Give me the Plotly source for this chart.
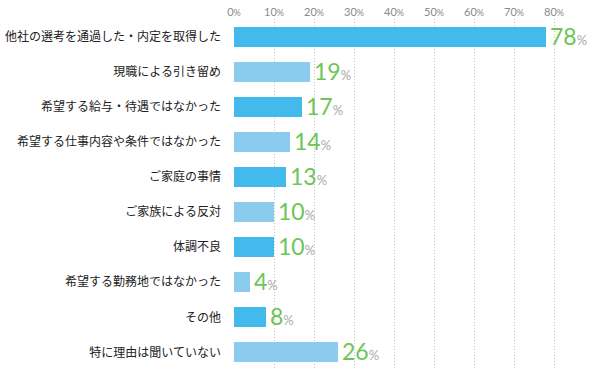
import plotly.graph_objects as go

categories = [
    "他社の選考を通過した・内定を取得した",
    "現職による引き留め",
    "希望する給与・待遇ではなかった",
    "希望する仕事内容や条件ではなかった",
    "ご家庭の事情",
    "ご家族による反対",
    "体調不良",
    "希望する勤務地ではなかった",
    "その他",
    "特に理由は聞いていない",
]
values = [78, 19, 17, 14, 13, 10, 10, 4, 8, 26]
tick_values = [0, 10, 20, 30, 40, 50, 60, 70, 80]

dark = "#42BAEC"
light = "#8BCBEE"
colors = [dark if i % 2 == 0 else light for i in range(len(categories))]

fig = go.Figure()
fig.add_trace(go.Bar(
    y=categories, x=values, orientation="h",
    marker=dict(color=colors, line=dict(width=0)),
    width=0.57, hoverinfo="skip",
))

for c, v in zip(categories, values):
    fig.add_annotation(
        x=v, y=c, xref="x", yref="y",
        text=f"{v}<span style='font-size:13px;color:#AAAAAA'>%</span>",
        showarrow=False, xanchor="left", yanchor="middle", xshift=2, yshift=1,
        font=dict(family="Lato", size=23, color="#6CC655"),
    )

fig.update_layout(
    width=592, height=370,
    margin=dict(l=234, r=0, t=18.5, b=0, autoexpand=False),
    plot_bgcolor="white", paper_bgcolor="white",
    showlegend=False,
    font=dict(family="Noto Sans CJK JP", color="#333333"),
    bargap=0,
)
fig.update_xaxes(
    side="top", range=[0, 89.5], automargin=False,
    tickvals=tick_values,
    ticktext=[f"{t}<span style='font-size:9px'>%</span>" for t in tick_values],
    tickfont=dict(family="Lato", size=11, color="#8A8A8A"),
    showgrid=True, gridcolor="#C4C4C4", griddash="1px,2px", gridwidth=1,
    zeroline=False, showline=False, ticks="", ticklabelstandoff=0,
)
fig.update_yaxes(
    autorange="reversed", showgrid=False, zeroline=False, showline=False,
    automargin=False,
    tickfont=dict(family="Noto Sans CJK JP", size=12, color="#222222"),
    ticks="", ticklabelstandoff=12,
)

fig.write_html(
    "out.html",
    config={"displayModeBar": False},
    post_script="document.body.style.margin='0';document.body.style.padding='0';",
)
